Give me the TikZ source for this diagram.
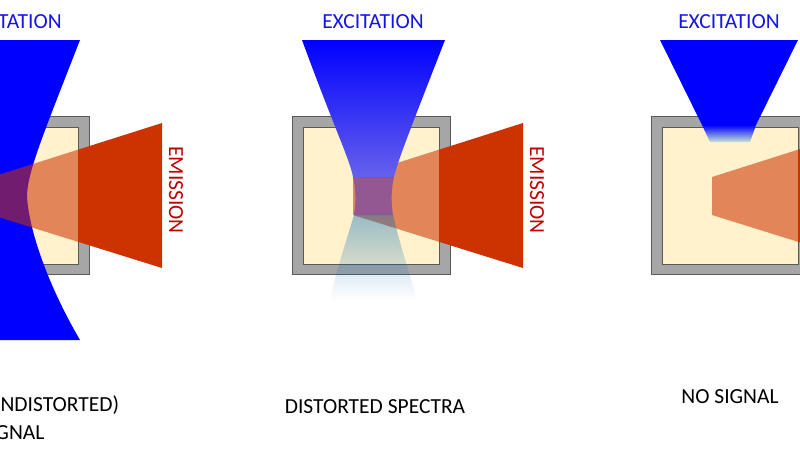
\documentclass[tikz,border=0pt]{standalone}
\usepackage{fontspec}
\setmainfont{Carlito}
\usetikzlibrary{fadings}
\definecolor{beamblue}{RGB}{0,0,255}
\definecolor{beamlow}{RGB}{0,105,190}
\definecolor{emitred}{RGB}{204,51,0}
\definecolor{framegrey}{RGB}{166,166,166}
\definecolor{frameedge}{RGB}{89,89,89}
\definecolor{cream}{RGB}{255,242,204}
\definecolor{textred}{RGB}{192,0,0}
\definecolor{textblue}{RGB}{20,20,235}
\tikzfading[name=fadelow, top color=transparent!60, bottom color=transparent!100]
\tikzset{
  frameout/.style={fill=framegrey, draw=frameedge, line width=0.8pt},
  framein/.style={fill=cream, draw=frameedge, line width=0.8pt},
  lbl/.style={font=\fontsize{21.5}{28}\selectfont, inner sep=0pt},
  exclbl/.style={lbl, text=textblue},
  emilbl/.style={lbl, text=textred, rotate=-90}
}
% emission cone: opaque outside the cell, see-through inside it
\newcommand\emitcone{%
  \begin{scope}
    \clip (439,0) rectangle (800,450);
    \fill[emitred] (353,177) -- (523,123) -- (523,268) -- (353,215) -- cycle;
  \end{scope}
  \begin{scope}
    \clip (303,127) rectangle (439,264);
    \fill[emitred, opacity=0.56] (353,177) -- (523,123) -- (523,268) -- (353,215) -- cycle;
  \end{scope}}
\begin{document}
\begin{tikzpicture}[x=1pt, y=-1pt]
  \useasboundingbox (0,0) rectangle (800,450);
  \fill[white] (0,0) rectangle (800,450);
  % cells
  \foreach \s in {-361, 0, 359} {
    \draw[frameout] (292+\s,116) rectangle (450+\s,274);
    \draw[framein] (303+\s,127) rectangle (439+\s,264);
  }
  % left: focused in the cell
  \fill[beamblue] (-100,40) -- (80,40) .. controls (45,130) and (28,170) .. (27,195)
    .. controls (28,225) and (45,280) .. (80,340) -- (-100,340) -- cycle;
  \begin{scope}[xshift=-361pt]
    \emitcone
  \end{scope}
  % middle: focused in the cell, beam partly absorbed
  \emitcone
  \shade[top color=beamblue, middle color=beamblue!97!cream, bottom color=beamblue!60!cream]
    (302,40) -- (445,40) .. controls (410,130) and (398,160) .. (394,177)
    -- (353,177) .. controls (350,160) and (335,130) .. (302,40) -- cycle;
  \fill[beamblue, opacity=0.35] (353,177) -- (394,177) .. controls (391,190) and (391,203) .. (393,215)
    -- (354,215) .. controls (356,203) and (356,190) .. (353,177) -- cycle;
  \fill[beamlow, path fading=fadelow] (354,215) .. controls (345,245) and (335,275) .. (330,300)
    -- (417,300) .. controls (410,275) and (400,245) .. (393,215) -- cycle;
  % right: beam stops at the top of the cell
  \begin{scope}[xshift=359pt]
    \emitcone
  \end{scope}
  \fill[beamblue] (660,40) -- (798,40) -- (756,125) -- (702,125) -- cycle;
  \shade[top color=beamblue, bottom color={rgb,255:red,200;green,228;blue,212}]
    (702,125) -- (756,125) -- (750,142) -- (710,142) -- cycle;
  % labels
  \node[exclbl] (exc1) at (11,22) {EXCITATION};
  \node[exclbl] (exc2) at (373,22) {EXCITATION};
  \node[exclbl] (exc3) at (729,22) {EXCITATION};
  \node[emilbl] (emi1) at (176,190) {EMISSION};
  \node[emilbl] (emi2) at (537,190) {EMISSION};
  \node[lbl, anchor=north west, align=left] (cap1) at (-20,396) {(UNDISTORTED)\\SIGNAL};
  \node[lbl] (cap2) at (375,407) {DISTORTED SPECTRA};
  \node[lbl] (cap3) at (730,397) {NO SIGNAL};
\end{tikzpicture}
\end{document}
